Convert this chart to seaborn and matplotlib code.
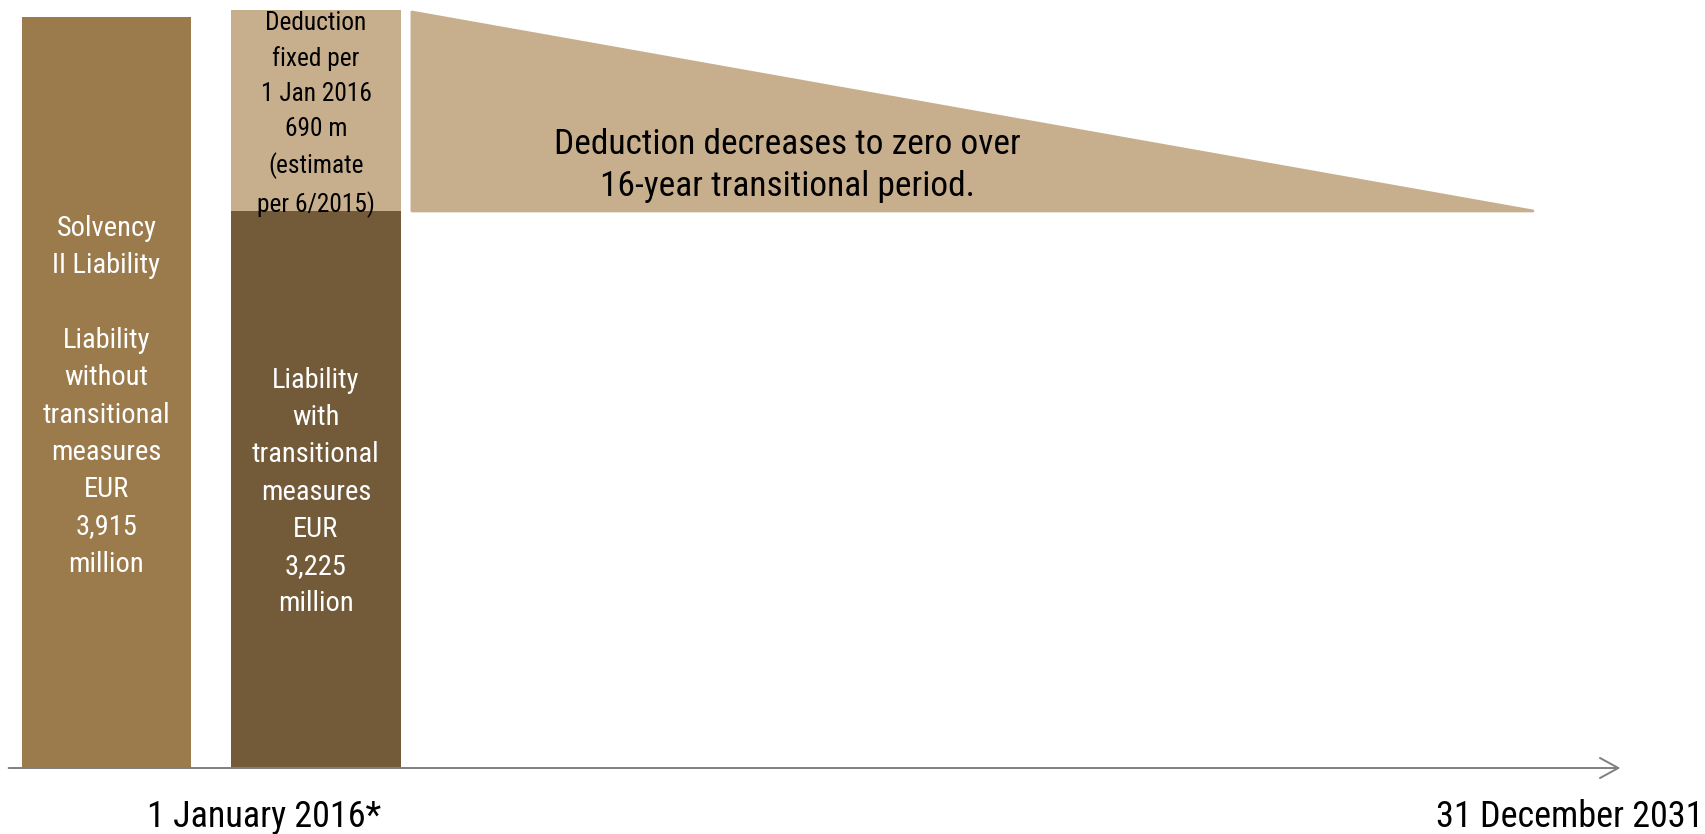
import matplotlib
matplotlib.use("Agg")
import matplotlib.pyplot as plt
from matplotlib import font_manager
from matplotlib.patches import FancyArrowPatch
import seaborn as sns
import pandas as pd

# ---- data (schematic display heights) ----
categories = ["Without transitional measures", "With transitional measures"]
liability_height = [100.0, 74.2]          # lower bar parts
deduction_height = [0.0, 26.8]            # deduction stacked on 2nd bar
deduction_schedule = [26.5, 0.0]          # deduction at start / end of transitional period
bar_labels = [
    "Solvency\nII Liability\n\nLiability\nwithout\ntransitional\nmeasures\nEUR\n3,915\nmillion",
    "Liability\nwith\ntransitional\nmeasures\nEUR\n3,225\nmillion",
]
deduction_label = "Deduction\nfixed per\n1 Jan 2016\n690 m\n(estimate\nper 6/2015)"
period_label = "Deduction decreases to zero over\n16-year transitional period."
axis_labels = ["1 January 2016*", "31 December 2031"]

# ---- style ----
c_bar1 = "#9B7A4C"
c_dark = "#735B3A"
c_light = "#C7AF8E"

sns.set_theme(style="white")
names = {f.name for f in font_manager.fontManager.ttflist}
family = "DejaVu Sans"
for cand in ["Roboto Condensed", "Archivo Narrow", "PT Sans Narrow",
             "Sofia Sans Condensed", "Encode Sans Condensed", "Liberation Sans"]:
    if cand in names:
        family = cand
        break
plt.rcParams["font.family"] = [family, "DejaVu Sans"]
plt.rcParams["font.weight"] = 400

fig = plt.figure(figsize=(17.05, 8.34), dpi=100)
ax = fig.add_axes([0, 0, 1, 1])

totals = [l + d for l, d in zip(liability_height, deduction_height)]
df_tot = pd.DataFrame({"cat": categories, "h": totals})
df_low = pd.DataFrame({"cat": categories, "h": liability_height})

# full stacks first, then the lower liability part of the second bar on top
sns.barplot(data=df_tot, x="cat", y="h", order=categories, hue="cat",
            palette=[c_bar1, c_light], width=0.81, legend=False, ax=ax,
            linewidth=0, saturation=1)
sns.barplot(data=df_low.iloc[[1]], x="cat", y="h", order=categories,
            color=c_dark, width=0.81, ax=ax, linewidth=0, saturation=1)

# deduction run-off triangle
x_start, x_end = 1.458, 6.809
base = liability_height[1]
ax.fill([x_start, x_start, x_end],
        [base, base + deduction_schedule[0], base + deduction_schedule[1]],
        color=c_light, linewidth=2, edgecolor=c_light, joinstyle="round", zorder=2)

# time axis arrow
arr = FancyArrowPatch((-0.48, 0), (7.239, 0),
                      arrowstyle="->,head_length=0.6,head_width=0.33",
                      mutation_scale=22, color="#7f7f7f", linewidth=1.4, zorder=3)
ax.add_patch(arr)

# texts
fs = 20.5
ls = 1.49
ax.text(0, liability_height[0] * 0.5 - 0.5, bar_labels[0], ha="center", va="center",
        color="white", fontsize=fs, linespacing=ls)
ax.text(1, liability_height[1] * 0.5 - 0.35, bar_labels[1], ha="center", va="center",
        color="white", fontsize=fs, linespacing=ls)
ax.text(1, liability_height[1] + deduction_height[1] * 0.5 - 0.55, deduction_label,
        ha="center", va="center", color="black", fontsize=18.3, linespacing=1.57)
ax.text(3.25, 80.25, period_label, ha="center", va="center", color="black",
        fontsize=25.5, linespacing=1.37)
ax.text(0.752, -6.5, axis_labels[0], ha="center", va="center", color="black",
        fontsize=26)
ax.text(7.625, -6.5, axis_labels[1], ha="right", va="center", color="black",
        fontsize=26)

ax.set_xlim(-0.508, 7.63)
ax.set_ylim(-8.79, 102.3)
ax.axis("off")

fig.savefig("out.png", dpi=100)
